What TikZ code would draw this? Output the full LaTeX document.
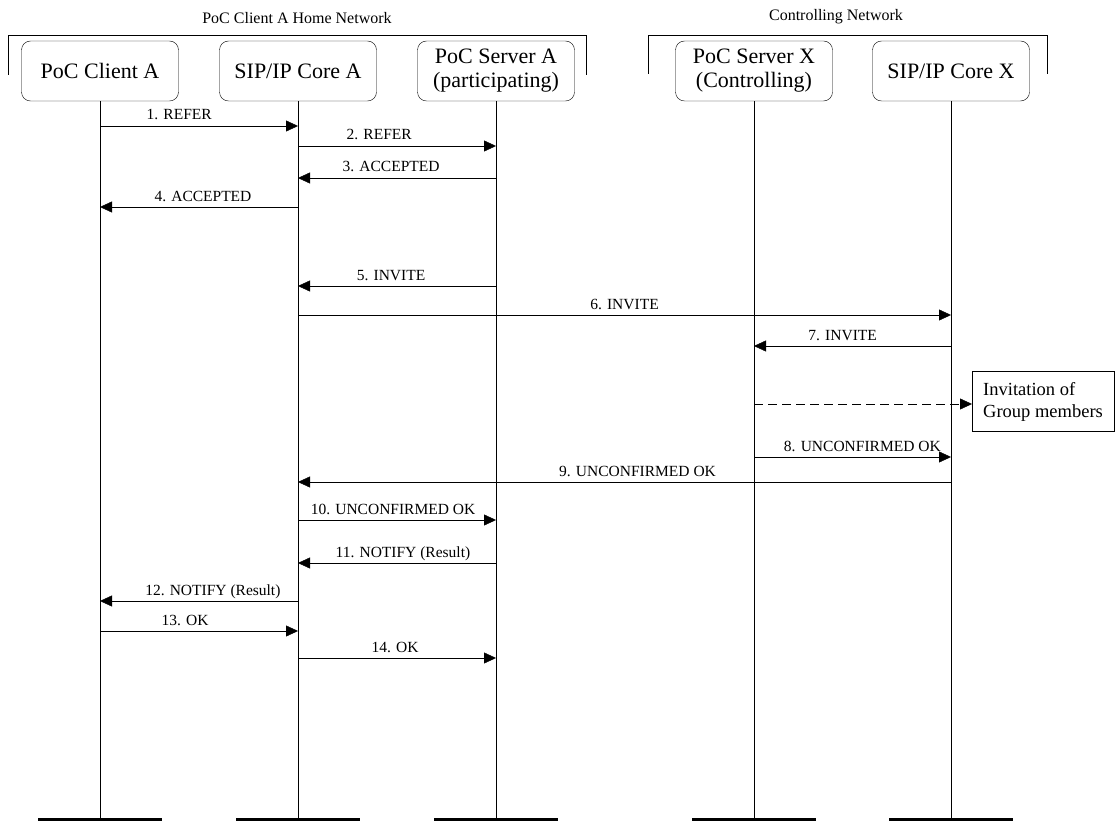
\documentclass[tikz,border=0pt]{standalone}
\usepackage{fontspec}
\setmainfont{Liberation Serif}
\usetikzlibrary{arrows.meta}

\begin{document}
\begin{tikzpicture}[x=1pt,y=-1pt,
    head/.style={draw,fill=white,rounded corners=9pt,minimum width=157pt,minimum height=60pt,
      align=center,inner sep=1pt,font=\fontsize{22}{24}\selectfont},
    msg/.style={-{Triangle[length=12pt,width=11pt]}},
    lbl/.style={anchor=base,yshift=6pt,inner sep=0pt,font=\fontsize{15.5}{17}\selectfont},
    net/.style={font=\fontsize{16}{18}\selectfont},
    bar/.style={line width=3pt}]
    \useasboundingbox (0,0) rectangle (1116,821);

    % network brackets
    \draw (8,75) -- (8,35) -- (586,35) -- (586,75);
    \node[net] (hn) at (297,18) {PoC Client A Home Network};
    \draw (648,74) -- (648,35) -- (1047,35) -- (1047,74);
    \node[net] (cn) at (836,17) {Controlling Network};

    \node[head] (ca) at (100,71) {PoC Client A};
    \node[head] (cb) at (298,71) {SIP/IP Core A};
    \node[head] (sa) at (496,71) {PoC Server A\\(participating)};
    \node[head] (sx) at (754,71) {PoC Server X\\(Controlling)};
    \node[head] (cx) at (951,71) {SIP/IP Core X};

    \coordinate (ca1) at (100,819);
    \coordinate (cb1) at (298,819);
    \coordinate (sa1) at (496,819);
    \coordinate (sx1) at (754,819);
    \coordinate (cx1) at (951,819);

    % lifelines
    \foreach \n in {ca,cb,sa,sx,cx}{
      \draw (\n) -- (\n1);
      \draw[bar] (\n1) ++(-62,0) -- ++(124,0);
    }

    \node[draw,align=left,anchor=west,inner xsep=11pt,minimum height=60pt,
      font=\fontsize{18.5}{22}\selectfont] (inv) at (972,401.5) {Invitation of\\Group members};

    % messages
    \draw[msg] (ca |- 0,126) -- node[lbl,pos=0.4]{1. REFER} (cb |- 0,126);
    \draw[msg] (cb |- 0,146) -- node[lbl,pos=0.41]{2. REFER} (sa |- 0,146);
    \draw[msg] (sa |- 0,178) -- node[lbl,pos=0.53]{3. ACCEPTED} (cb |- 0,178);
    \draw[msg] (cb |- 0,207) -- node[lbl,pos=0.48]{4. ACCEPTED} (ca |- 0,207);
    \draw[msg] (sa |- 0,286) -- node[lbl,pos=0.53]{5. INVITE} (cb |- 0,286);
    \draw[msg] (cb |- 0,315) -- node[lbl]{6. INVITE} (cx |- 0,315);
    \draw[msg] (cx |- 0,346) -- node[lbl,pos=0.55]{7. INVITE} (sx |- 0,346);
    \draw[msg,dashed,dash pattern=on 9pt off 5pt] (sx |- 0,404) -- (inv.west |- 0,404);
    \draw[msg] (sx |- 0,457) -- node[lbl,pos=0.55]{8. UNCONFIRMED OK} (cx |- 0,457);
    \draw[msg] (cx |- 0,482) -- node[lbl,pos=0.48]{9. UNCONFIRMED OK} (cb |- 0,482);
    \draw[msg] (cb |- 0,520) -- node[lbl,pos=0.48]{10. UNCONFIRMED OK} (sa |- 0,520);
    \draw[msg] (sa |- 0,563) -- node[lbl,pos=0.47]{11. NOTIFY (Result)} (cb |- 0,563);
    \draw[msg] (cb |- 0,601) -- node[lbl,pos=0.43]{12. NOTIFY (Result)} (ca |- 0,601);
    \draw[msg] (ca |- 0,631) -- node[lbl,pos=0.43]{13. OK} (cb |- 0,631);
    \draw[msg] (cb |- 0,658) -- node[lbl,pos=0.49]{14. OK} (sa |- 0,658);
\end{tikzpicture}
\end{document}
